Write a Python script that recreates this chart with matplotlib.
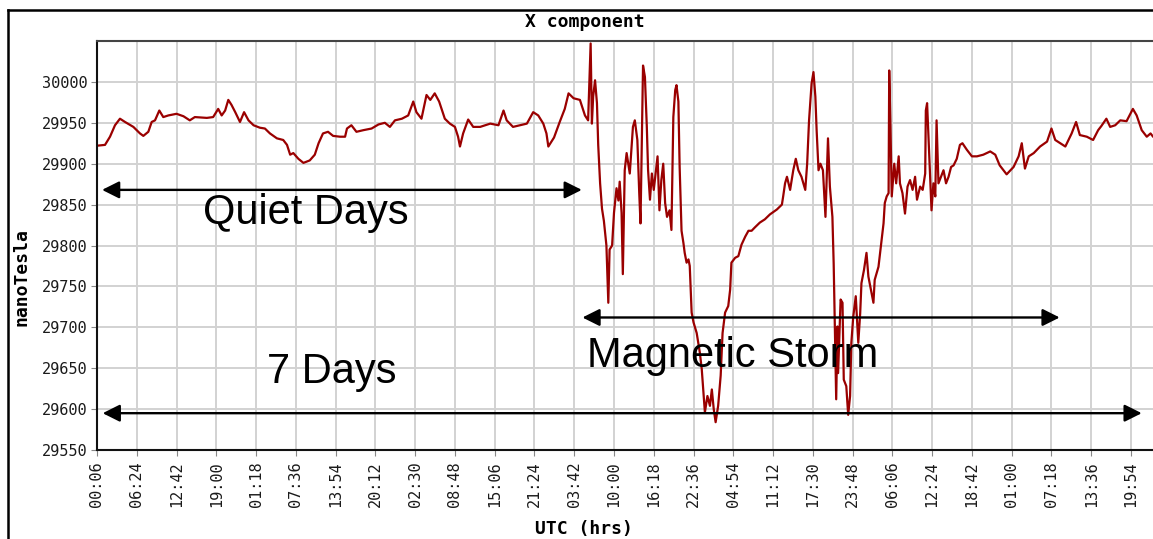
import numpy as np
import matplotlib
matplotlib.use("Agg")
import matplotlib.pyplot as plt
from matplotlib.lines import Line2D

# ----------------------------------------------------------------------------
# X component of the geomagnetic field, 7 days (quiet days + magnetic storm)
# ----------------------------------------------------------------------------

# hours since the first tick (00:06)
hours = [
    0.0, 1.27, 2.06, 2.85, 3.64, 4.44, 5.76, 6.81, 7.34, 8.13, 8.66, 9.19, 9.87,
    10.5, 11.3, 12.6, 13.7, 14.7, 15.5, 17.4, 18.4, 19.2, 19.75, 20.3, 20.8,
    21.3, 21.9, 22.65, 23.3, 24.0, 24.8, 25.8, 26.6, 27.4, 28.5, 29.5, 30.1,
    30.6, 31.1, 31.9, 32.7, 33.7, 34.5, 35.1, 35.8, 36.6, 37.4, 38.5, 39.3,
    39.6, 40.3, 41.1, 42.2, 43.5, 44.6, 45.6, 46.4, 47.2, 48.3, 49.3, 50.1,
    50.6, 51.4, 52.2, 52.8, 53.5, 54.2, 55.1, 55.9, 56.7, 57.2, 57.5, 58.0,
    58.8, 59.6, 60.7, 62.3, 63.6, 64.4, 64.9, 65.9, 67.0, 68.1, 69.1, 69.9,
    70.7, 71.2, 71.5, 72.4, 73.3, 74.1, 74.7, 75.5, 76.5, 77.3, 77.8, 78.2,
    78.4, 78.6, 78.9, 79.2, 79.4, 79.7, 80.0, 80.3, 80.7, 81.0, 81.2, 81.6,
    81.9, 82.3, 82.6, 82.8, 83.1, 83.3, 83.6, 83.9, 84.4, 84.9, 85.2, 85.6,
    85.9, 86.1, 86.5, 86.8, 87.1, 87.3, 87.6, 87.9, 88.2, 88.8, 89.1, 89.4,
    89.7, 90.0, 90.3, 90.7, 91.0, 91.3, 91.6, 91.8, 92.1, 92.3, 92.6, 92.9,
    93.1, 93.4, 93.7, 93.9, 94.2, 94.5, 95.0, 95.5, 95.8, 96.0, 96.3, 96.7,
    97.1, 97.4, 97.7, 98.0, 98.4, 98.8, 99.1, 99.5, 100.0, 100.3, 100.5, 101.1,
    101.6, 102.1, 102.7, 103.2, 103.7, 104.2, 105.0, 105.8, 106.6, 107.7, 108.5,
    108.7, 109.0, 109.3, 109.8, 110.3, 110.7, 111.1, 111.6, 112.2, 112.5, 112.8,
    113.2, 113.5, 113.8, 114.0, 114.3, 114.6, 114.8, 115.0, 115.4, 115.8, 116.1,
    116.5, 116.7, 117.1, 117.3, 117.4, 117.8, 118.1, 118.3, 118.7, 119.0, 119.3,
    119.5, 119.8, 120.2, 120.6, 120.9, 121.1, 121.5, 121.9, 122.2, 122.6, 123.0,
    123.2, 123.8, 124.3, 124.6, 124.8, 125.1, 125.4, 125.5, 125.7, 125.9, 126.3,
    126.6, 127.0, 127.2, 127.6, 128.0, 128.4, 128.8, 129.2, 129.6, 129.9, 130.4,
    130.8, 131.2, 131.3, 131.5, 131.8, 132.2, 132.5, 132.8, 133.0, 133.3, 133.7,
    134.1, 134.5, 134.9, 135.3, 135.7, 136.2, 136.7, 137.1, 137.8, 138.6, 139.4,
    140.4, 141.5, 142.3, 143.0, 144.1, 145.2, 146.0, 146.5, 147.0, 147.6, 148.4,
    149.4, 150.5, 151.2, 151.8, 152.6, 153.4, 154.4, 155.1, 155.7, 156.8, 157.8,
    158.6, 159.1, 159.9, 160.5, 161.3, 162.1, 163.1, 164.1, 164.7, 165.5, 166.3,
    166.9, 167.3, 168.0,
]

# field in nanoTesla
x_component = [
    29922, 29923, 29933, 29947, 29955, 29951, 29945, 29937, 29934, 29939, 29951,
    29953, 29965, 29957, 29959, 29961, 29958, 29953, 29957, 29956, 29957, 29967,
    29959, 29965, 29978, 29972, 29963, 29951, 29963, 29953, 29947, 29944, 29943,
    29937, 29931, 29929, 29923, 29911, 29913, 29906, 29901, 29904, 29911, 29925,
    29937, 29939, 29934, 29933, 29933, 29943, 29947, 29939, 29941, 29943, 29948,
    29950, 29945, 29953, 29955, 29959, 29976, 29963, 29955, 29984, 29978, 29986,
    29976, 29955, 29949, 29945, 29933, 29921, 29937, 29954, 29945, 29945, 29949,
    29947, 29965, 29953, 29945, 29947, 29949, 29963, 29959, 29949, 29937, 29921,
    29932, 29951, 29967, 29986, 29980, 29978, 29959, 29953, 30047, 29949, 29982,
    30002, 29974, 29923, 29876, 29845, 29830, 29800, 29730, 29795, 29800, 29840,
    29870, 29855, 29878, 29840, 29765, 29892, 29913, 29888, 29945, 29953, 29929,
    29864, 29827, 30020, 30006, 29945, 29892, 29856, 29888, 29868, 29909, 29843,
    29880, 29900, 29852, 29835, 29843, 29819, 29957, 29990, 29996, 29976, 29896,
    29818, 29803, 29791, 29779, 29783, 29775, 29718, 29706, 29693, 29669, 29649,
    29628, 29596, 29616, 29604, 29624, 29600, 29584, 29604, 29641, 29693, 29718,
    29726, 29746, 29779, 29785, 29787, 29801, 29811, 29818, 29818, 29822, 29828,
    29832, 29838, 29844, 29850, 29860, 29876, 29884, 29868, 29892, 29906, 29892,
    29884, 29868, 29900, 29953, 29998, 30012, 29982, 29941, 29892, 29900, 29896,
    29892, 29835, 29931, 29872, 29835, 29778, 29612, 29701, 29644, 29734, 29730,
    29636, 29628, 29593, 29616, 29681, 29713, 29738, 29681, 29717, 29754, 29770,
    29791, 29762, 29746, 29730, 29758, 29774, 29807, 29827, 29852, 29860, 29864,
    30014, 29945, 29860, 29900, 29876, 29909, 29876, 29864, 29839, 29872, 29880,
    29868, 29884, 29856, 29872, 29868, 29888, 29965, 29974, 29917, 29843, 29876,
    29860, 29953, 29876, 29884, 29892, 29876, 29884, 29896, 29898, 29906, 29923,
    29925, 29917, 29909, 29909, 29911, 29915, 29911, 29898, 29887, 29896, 29909,
    29925, 29894, 29909, 29913, 29921, 29927, 29943, 29929, 29925, 29921, 29937,
    29951, 29935, 29933, 29929, 29941, 29946, 29955, 29945, 29947, 29953, 29952,
    29967, 29959, 29941, 29933, 29937, 29933, 29930,
]

tick_labels = ["00:06", "06:24", "12:42", "19:00", "01:18", "07:36", "13:54",
               "20:12", "02:30", "08:48", "15:06", "21:24", "03:42", "10:00",
               "16:18", "22:36", "04:54", "11:12", "17:30", "23:48", "06:06",
               "12:24", "18:42", "01:00", "07:18", "13:36", "19:54"]
tick_step = 6.3  # hours between labelled ticks

W, H = 1153, 539
mono = "DejaVu Sans Mono"

fig = plt.figure(figsize=(W / 100, H / 100), dpi=100)
fig.patch.set_facecolor("white")

# axes run a little past the right edge of the picture (cropped original)
ax = fig.add_axes([97 / W, 1 - 450 / H, (1157.5 - 97) / W, (450 - 41) / H])

ax.plot(hours, x_component, color="#9a0000", lw=1.6)

ax.set_xlim(0, 168)
ax.set_ylim(29550, 30050)
ax.set_xticks(np.arange(len(tick_labels)) * tick_step)
ax.set_xticklabels(tick_labels, rotation=90, family=mono, fontsize=11, color="#1a1a1a")
ax.set_yticks(np.arange(29550, 30001, 50))
ax.set_yticklabels([str(v) for v in range(29550, 30001, 50)], family=mono,
                   fontsize=11, color="#1a1a1a")
ax.tick_params(axis="x", length=4, pad=4, color="#888888")
ax.tick_params(axis="y", length=4, pad=3, color="#888888")

ax.grid(True, color="#d2d2d2", lw=1.4)
ax.set_axisbelow(True)
ax.spines["right"].set_visible(False)
ax.spines["top"].set_color("#444444")
for s in ["top", "left", "bottom"]:
    ax.spines[s].set_linewidth(1.5)
ax.spines["left"].set_color("#111111")
ax.spines["bottom"].set_color("#111111")

# titles in the bitmap-ish mono style
fig.text(585 / W, 1 - 22 / H, "X component", family=mono, fontweight="bold",
         fontsize=13, ha="center", va="center")
fig.text(584 / W, 1 - 529 / H, "UTC (hrs)", family=mono, fontweight="bold",
         fontsize=13, ha="center", va="center")
fig.text(22 / W, 1 - 277 / H, "nanoTesla", family=mono, fontweight="bold",
         fontsize=13, ha="center", va="center", rotation=90)

# annotation arrows and labels
arrow = dict(arrowstyle="<|-|>", color="black", lw=1.7, mutation_scale=26,
             shrinkA=0, shrinkB=0)
ax.annotate("", xy=(76.8, 29868), xytext=(0.8, 29868), arrowprops=arrow,
            annotation_clip=False)
ax.annotate("", xy=(152.5, 29712), xytext=(76.9, 29712), arrowprops=arrow,
            annotation_clip=False)
ax.annotate("", xy=(165.5, 29595), xytext=(0.9, 29595), arrowprops=arrow,
            annotation_clip=False)

label_font = dict(family="Liberation Sans", fontsize=30, color="black",
                  ha="left", va="baseline")
ax.text(16.8, 29826, "Quiet Days", **label_font)
ax.text(77.6, 29651, "Magnetic Storm", **label_font)
ax.text(26.9, 29632, "7 Days", **label_font)

# outer frame of the original screenshot
fig.add_artist(Line2D([8 / W, 8 / W], [0, 1 - 10 / H], transform=fig.transFigure,
                      color="black", lw=1.8))
fig.add_artist(Line2D([8 / W, 1], [1 - 10 / H, 1 - 10 / H], transform=fig.transFigure,
                      color="black", lw=1.8))

fig.savefig("out.png", dpi=100)
